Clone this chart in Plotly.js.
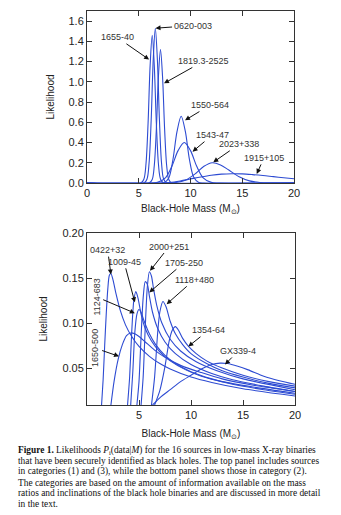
<!DOCTYPE html>
<html>
<head>
<meta charset="utf-8">
<script src="https://cdn.plot.ly/plotly-3.0.1.min.js"></script>
<style>
html,body{margin:0;padding:0;background:#fff;}
#chart{width:341px;height:515px;}
</style>
</head>
<body>
<div id="chart"></div>
<script>
// ---------- Top panel (categories 1 and 3) ----------
const topNames = ["0620-003", "1655-40", "1819.3-2525", "1550-564", "1543-47", "2023+338", "1915+105"];
const x_0620 = [0, 5.5, 5.8, 6.0, 6.2, 6.4, 6.6, 6.8, 7.0, 7.2, 7.4, 7.7, 8.0, 20];
const y_0620 = [0, 0, 0.04, 0.20, 0.62, 1.22, 1.53, 1.22, 0.62, 0.20, 0.04, 0.003, 0, 0];
const x_1655 = [0, 5.2, 5.5, 5.7, 5.9, 6.1, 6.3, 6.5, 6.7, 6.9, 7.1, 7.4, 20];
const y_1655 = [0, 0, 0.04, 0.19, 0.59, 1.16, 1.46, 1.16, 0.59, 0.19, 0.04, 0, 0];
const x_1819 = [0, 6.0, 6.3, 6.5, 6.7, 6.9, 7.1, 7.3, 7.5, 7.7, 7.9, 8.2, 20];
const y_1819 = [0, 0, 0.035, 0.17, 0.53, 1.05, 1.32, 1.05, 0.53, 0.17, 0.035, 0, 0];
const x_1550 = [0, 7.4, 7.9, 8.3, 8.7, 9.1, 9.5, 9.9, 10.3, 10.8, 11.3, 20];
const y_1550 = [0, 0, 0.05, 0.23, 0.51, 0.66, 0.51, 0.23, 0.06, 0.006, 0, 0];
const x_1543 = [0, 6.8, 7.6, 8.2, 8.8, 9.4, 10.0, 10.6, 11.2, 12.0, 12.8, 20];
const y_1543 = [0, 0.006, 0.054, 0.165, 0.32, 0.40, 0.32, 0.165, 0.054, 0.006, 0, 0];
const x_2023 = [0, 7.5, 8.5, 9.5, 10.5, 11.3, 12.1, 12.9, 13.7, 14.7, 15.7, 16.7, 18, 20];
const y_2023 = [0, 0, 0.004, 0.027, 0.094, 0.165, 0.20, 0.179, 0.128, 0.062, 0.021, 0.005, 0.001, 0];
const x_1915 = [0, 7, 8, 9, 10, 11, 12, 13, 14, 15, 16, 17, 18, 19, 20];
const y_1915 = [0, 0, 0.005, 0.02, 0.04, 0.06, 0.077, 0.088, 0.092, 0.09, 0.083, 0.074, 0.063, 0.052, 0.042];

// ---------- Bottom panel (category 2) ----------
const bottomNames = ["0422+32", "1650-500", "1009-45", "1124-683", "1705-250", "2000+251", "1118+480", "1354-64", "GX339-4"];
const x_0422 = [1.40, 1.55, 1.7, 1.85, 2.0, 2.15, 2.3, 2.5, 2.8, 3.2, 3.7, 4.3, 5, 6, 7, 8, 10, 12, 15, 20];
const y_0422 = [0.009, 0.037, 0.075, 0.110, 0.138, 0.153, 0.155, 0.148, 0.132, 0.114, 0.098, 0.085, 0.074, 0.063, 0.055, 0.049, 0.040, 0.034, 0.027, 0.019];
const x_1650 = [2.3, 2.6, 3.0, 3.4, 3.8, 4.2, 4.6, 5.0, 5.6, 6.5, 7.5, 9, 11, 13, 16, 20];
const y_1650 = [0.009, 0.035, 0.060, 0.076, 0.086, 0.089, 0.088, 0.085, 0.079, 0.070, 0.062, 0.053, 0.045, 0.038, 0.031, 0.024];
const x_1009 = [3.9, 4.1, 4.3, 4.5, 4.7, 4.9, 5.2, 5.6, 6.2, 7, 8, 9.5, 11, 13, 16, 20];
const y_1009 = [0.009, 0.040, 0.090, 0.125, 0.135, 0.128, 0.110, 0.094, 0.080, 0.068, 0.058, 0.048, 0.041, 0.035, 0.029, 0.022];
const x_1124 = [4.2, 4.4, 4.6, 4.8, 5.0, 5.2, 5.5, 6, 6.6, 7.5, 8.5, 10, 12, 14, 17, 20];
const y_1124 = [0.009, 0.045, 0.090, 0.110, 0.115, 0.112, 0.102, 0.088, 0.076, 0.064, 0.055, 0.046, 0.038, 0.032, 0.026, 0.021];
const x_1705 = [4.8, 5.0, 5.2, 5.4, 5.6, 5.8, 6.0, 6.3, 6.8, 7.5, 8.5, 10, 12, 14, 17, 20];
const y_1705 = [0.009, 0.035, 0.085, 0.128, 0.146, 0.143, 0.130, 0.112, 0.094, 0.079, 0.066, 0.054, 0.044, 0.037, 0.030, 0.024];
const x_2000 = [5.2, 5.4, 5.6, 5.8, 6.0, 6.2, 6.4, 6.7, 7.2, 8, 9, 10.5, 12.5, 15, 20];
const y_2000 = [0.009, 0.040, 0.095, 0.140, 0.157, 0.152, 0.138, 0.120, 0.100, 0.082, 0.069, 0.057, 0.047, 0.038, 0.026];
const x_1118 = [6.2, 6.5, 6.8, 7.0, 7.3, 7.6, 8.0, 8.5, 9.2, 10, 11.5, 13, 15, 17.5, 20];
const y_1118 = [0.009, 0.040, 0.090, 0.112, 0.124, 0.118, 0.102, 0.088, 0.076, 0.066, 0.055, 0.047, 0.040, 0.033, 0.028];
const x_1354 = [6.5, 7.0, 7.5, 7.9, 8.2, 8.5, 8.8, 9.2, 9.7, 10.5, 11.5, 13, 15, 17.5, 20];
const y_1354 = [0.009, 0.025, 0.052, 0.080, 0.092, 0.096, 0.092, 0.083, 0.075, 0.066, 0.058, 0.050, 0.042, 0.035, 0.030];
const x_gx = [6.3, 7, 8, 9, 10, 11, 12, 12.8, 13.5, 14.5, 15.5, 17, 18.5, 20];
const y_gx = [0.009, 0.017, 0.026, 0.035, 0.042, 0.049, 0.054, 0.0555, 0.055, 0.052, 0.048, 0.041, 0.036, 0.032];

// ---------- Tick labels ----------
const topYTicks = [0, 0.2, 0.4, 0.6, 0.8, 1.0, 1.2, 1.4, 1.6];
const topYTickText = ["0.0", "0.2", "0.4", "0.6", "0.8", "1.0", "1.2", "1.4", "1.6"];
const topXTicks = [0, 5, 10, 15, 20];
const botYTicks = [0.05, 0.10, 0.15, 0.20];
const botYTickText = ["0.05", "0.10", "0.15", "0.20"];
const botXTicks = [5, 10, 15, 20];

const captionLines = [
  "<b>Figure 1.</b> Likelihoods <i>P</i><sub>i</sub>(data|<i>M</i>) for the 16 sources in low-mass X-ray binaries",
  "that have been securely identified as black holes. The top panel includes sources",
  "in categories (1) and (3), while the bottom panel shows those in category (2).",
  "The categories are based on the amount of information available on the mass",
  "ratios and inclinations of the black hole binaries and are discussed in more detail",
  "in the text."
];

const topX = [x_0620, x_1655, x_1819, x_1550, x_1543, x_2023, x_1915];
const topY = [y_0620, y_1655, y_1819, y_1550, y_1543, y_2023, y_1915];
const botX = [x_0422, x_1650, x_1009, x_1124, x_1705, x_2000, x_1118, x_1354, x_gx];
const botY = [y_0422, y_1650, y_1009, y_1124, y_1705, y_2000, y_1118, y_1354, y_gx];

const lineColor = "rgb(45,75,210)";
const traces = [];
topNames.forEach((n, i) => traces.push({
  x: topX[i], y: topY[i], name: n, type: "scatter", mode: "lines",
  line: {color: lineColor, width: 1.1, shape: "spline", smoothing: 0.9},
  xaxis: "x", yaxis: "y"
}));
bottomNames.forEach((n, i) => traces.push({
  x: botX[i], y: botY[i], name: n, type: "scatter", mode: "lines",
  line: {color: lineColor, width: 1.1, shape: "spline", smoothing: 0.7},
  xaxis: "x2", yaxis: "y2"
}));

const W = 341, H = 515;
const X2_DOMAIN = [87 / W, 295 / W];
const X2_RANGE = [0, 20];
const axFont = {family: "Liberation Sans, Arial, sans-serif", size: 11, color: "#222"};
const titleFont = {family: "Liberation Sans, Arial, sans-serif", size: 10, color: "#222"};
const common = {
  showline: true, mirror: "ticks", ticks: "inside", ticklen: 5, tickwidth: 1,
  tickcolor: "#333", linecolor: "#333", linewidth: 1, showgrid: false,
  zeroline: false, tickfont: axFont
};

const labFont = {family: "Liberation Sans, Arial, sans-serif", size: 9, color: "#333"};
function lab(text, hx, hy, tx, ty, panel, extra) {
  return Object.assign({
    text: text, x: hx, y: hy, ax: tx, ay: ty,
    xref: panel === 1 ? "x" : "x2", yref: panel === 1 ? "y" : "y2",
    axref: panel === 1 ? "x" : "x2", ayref: panel === 1 ? "y" : "y2",
    showarrow: true, arrowhead: 2, arrowsize: 1, arrowwidth: 1, arrowcolor: "#111",
    font: labFont
  }, extra || {});
}

const annotations = [
  lab("0620-003", 6.62, 1.53, 10.2, 1.556, 1),
  lab("1655-40", 6.0, 1.22, 2.9, 1.44, 1),
  lab("1819.3-2525", 7.44, 0.985, 11.3, 1.206, 1),
  lab("1550-564", 9.47, 0.62, 11.9, 0.77, 1),
  lab("1543-47", 10.2, 0.31, 12.1, 0.473, 1),
  lab("2023+338", 12.2, 0.205, 14.7, 0.383, 1),
  lab("1915+105", 16.4, 0.09, 17.1, 0.248, 1),
  lab("0422+32", 2.3, 0.154, 1.99, 0.181, 2),
  lab("1009-45", 4.6, 0.123, 3.56, 0.168, 2),
  lab("2000+251", 6.06, 0.158, 7.9, 0.185, 2),
  lab("1705-250", 5.99, 0.134, 9.33, 0.167, 2),
  lab("1118+480", 7.66, 0.121, 10.3, 0.148, 2),
  lab("1124-683", 4.6, 0.111, 0.93, 0.129, 2, {textangle: -90}),
  lab("1650-500", 3.08, 0.063, 0.83, 0.072, 2, {textangle: -90}),
  lab("1354-64", 9.74, 0.074, 11.7, 0.092, 2),
  lab("GX339-4", 13.27, 0.054, 14.55, 0.069, 2)
];

// bottom x-axis tick labels, positioned from the bottom axis' domain and range
botXTicks.forEach(v => annotations.push({
  text: String(v), xref: "paper", yref: "paper",
  x: X2_DOMAIN[0] + (v - X2_RANGE[0]) / (X2_RANGE[1] - X2_RANGE[0]) * (X2_DOMAIN[1] - X2_DOMAIN[0]),
  y: 1 - 415 / H, xanchor: "center", yanchor: "middle", showarrow: false, font: axFont
}));

const capY = [450.5, 461.2, 471.9, 482.6, 493.3, 504];
captionLines.forEach((t, i) => annotations.push({
  text: t, xref: "paper", yref: "paper", x: 16 / W, y: 1 - capY[i] / H,
  xanchor: "left", yanchor: "middle", showarrow: false, align: "left",
  font: {family: "Liberation Serif, Times New Roman, serif", size: 9.4, color: "#111"}
}));

const layout = {
  width: W, height: H,
  margin: {l: 0, r: 0, t: 0, b: 0},
  showlegend: false,
  xaxis: Object.assign({}, common, {
    domain: [87 / W, 294 / W], range: [0, 20], tickvals: topXTicks, ticktext: topXTicks.map(String),
    anchor: "y", title: {text: "Black-Hole Mass (M<sub>⊙</sub>)", font: titleFont, standoff: 6}
  }),
  yaxis: Object.assign({}, common, {
    domain: [1 - 183 / H, 1 - 11 / H], range: [0, 1.7], tickvals: topYTicks, ticktext: topYTickText,
    anchor: "x", title: {text: "Likelihood", font: titleFont, standoff: 12}
  }),
  xaxis2: Object.assign({}, common, {
    domain: X2_DOMAIN, range: X2_RANGE, tickvals: botXTicks, showticklabels: false,
    anchor: "y2", title: {text: "Black-Hole Mass (M<sub>⊙</sub>)", font: titleFont, standoff: 24}
  }),
  yaxis2: Object.assign({}, common, {
    domain: [1 - 405 / H, 1 - 233 / H], range: [0.009, 0.2], tickvals: botYTicks, ticktext: botYTickText,
    anchor: "x2", title: {text: "Likelihood", font: titleFont, standoff: 12}
  }),
  annotations: annotations
};

Plotly.newPlot("chart", traces, layout, {staticPlot: true});
</script>
</body>
</html>
